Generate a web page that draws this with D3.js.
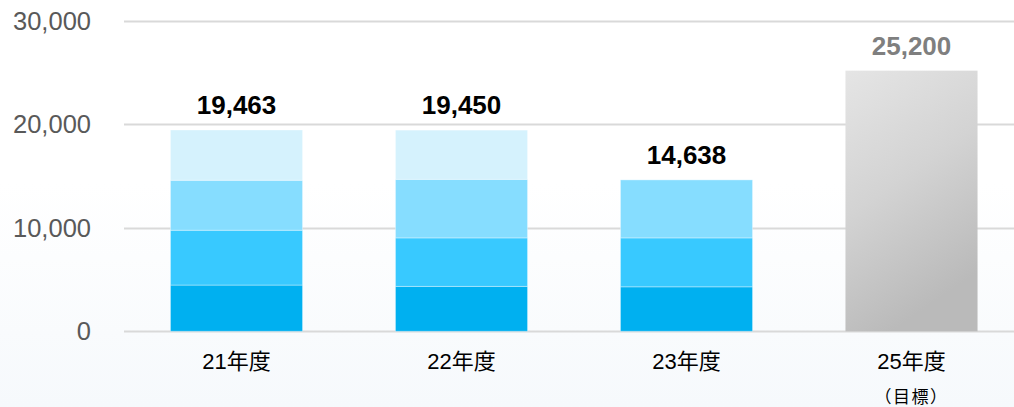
<!DOCTYPE html>
<html><head><meta charset="utf-8">
<script src="https://cdn.jsdelivr.net/npm/d3@7"></script>
<style>html,body{margin:0;padding:0;background:#fff;}svg{display:block;}</style>
</head><body>
<svg id="chart" width="1014" height="407"></svg>
<script>
const categories = ["21年度", "22年度", "23年度", "25年度"];
const subLabels = ["", "", "", "（目標）"];
const seg1 = [4470, 4340, 4300, 0];
const seg2 = [5300, 4690, 4730, 0];
const seg3 = [4830, 5660, 5608, 0];
const seg4 = [4863, 4760, 0, 0];
const target = [0, 0, 0, 25200];
const totals = [19463, 19450, 14638, 25200];
const yTicks = [0, 10000, 20000, 30000];

const segColors = ["#00b0f0", "#38c9ff", "#86ddff", "#d5f2fd"];
const W = 1014, H = 407;
const svg = d3.select("#chart");
const defs = svg.append("defs");
const bg = defs.append("linearGradient").attr("id","bg").attr("x1",0).attr("y1",0).attr("x2",0).attr("y2",1);
bg.append("stop").attr("offset","0.45").attr("stop-color","#ffffff");
bg.append("stop").attr("offset","1").attr("stop-color","#f6f9fc");
const tg = defs.append("linearGradient").attr("id","tg").attr("x1",0).attr("y1",0).attr("x2",0.35).attr("y2",1);
tg.append("stop").attr("offset","0").attr("stop-color","#e5e5e5");
tg.append("stop").attr("offset","0.5").attr("stop-color","#d3d3d3");
tg.append("stop").attr("offset","1").attr("stop-color","#bababa");
svg.append("rect").attr("width",W).attr("height",H).attr("fill","url(#bg)");

const x = d3.scaleBand().domain(categories).range([124, 1024]).paddingInner(0.413).paddingOuter(0.2065);
const y = d3.scaleLinear().domain([0, 30000]).range([331.3, 21]);

// gridlines
svg.append("g").selectAll("line").data(yTicks).join("line")
  .attr("x1",124).attr("x2",W).attr("y1",d=>Math.round(y(d))+0.5).attr("y2",d=>Math.round(y(d))+0.5)
  .attr("stroke","#d9d9d9").attr("stroke-width",2);

// y axis labels
const yAxis = d3.axisLeft(y).tickValues(yTicks).tickFormat(d3.format(",")).tickSize(0).tickPadding(0);
const ya = svg.append("g").attr("transform","translate(91,0)").call(yAxis);
ya.select(".domain").remove();
ya.selectAll("text").attr("font-family","Arial, 'Liberation Sans', sans-serif").attr("font-size",25.5)
  .attr("fill","#595959").attr("dy","0.33em");

// stacked bars
const rows = categories.map((c,i)=>({cat:c, s0:seg1[i], s1:seg2[i], s2:seg3[i], s3:seg4[i]}));
const stack = d3.stack().keys(["s0","s1","s2","s3"])(rows);
stack.forEach((layer, li) => {
  svg.append("g").selectAll("rect").data(layer.filter(d=>d[1]>d[0])).join("rect")
    .attr("x", d=>x(d.data.cat)).attr("width", x.bandwidth())
    .attr("y", d=>y(d[1])).attr("height", d=>y(d[0])-y(d[1]))
    .attr("fill", segColors[li])
    .attr("stroke","rgba(255,255,255,0.35)").attr("stroke-width",1);
});

// target bar
svg.append("g").selectAll("rect").data(categories.filter((c,i)=>target[i]>0)).join("rect")
  .attr("x", c=>x(c)).attr("width", x.bandwidth())
  .attr("y", c=>y(target[categories.indexOf(c)]))
  .attr("height", c=>y(0)-y(target[categories.indexOf(c)]))
  .attr("fill","url(#tg)");

// value labels
svg.append("g").selectAll("text").data(categories).join("text")
  .attr("x", c=>x(c)+x.bandwidth()/2)
  .attr("y", (c,i)=>y(totals[i])-16)
  .attr("text-anchor","middle")
  .attr("font-family","Arial, 'Liberation Sans', sans-serif").attr("font-weight","bold").attr("font-size",26)
  .attr("fill",(c,i)=>target[i]>0?"#7f7f7f":"#000")
  .text((c,i)=>d3.format(",")(totals[i]));

// category labels
const xAxis = d3.axisBottom(x).tickSize(0).tickPadding(0);
const xa = svg.append("g").attr("transform","translate(0,369)").call(xAxis);
xa.select(".domain").remove();
xa.selectAll("text").attr("dy",0).attr("font-family","Arial, 'Liberation Sans', 'Noto Sans CJK JP', sans-serif")
  .attr("font-size",22).attr("fill","#000");

svg.append("g").selectAll("text").data(categories.filter((c,i)=>subLabels[i])).join("text")
  .attr("x", c=>x(c)+x.bandwidth()/2).attr("y",403)
  .attr("text-anchor","middle")
  .attr("font-family","'Noto Sans CJK JP', sans-serif").attr("font-size",17).attr("letter-spacing","1.5px").attr("fill","#000")
  .text(c=>subLabels[categories.indexOf(c)]);
</script>
</body></html>
